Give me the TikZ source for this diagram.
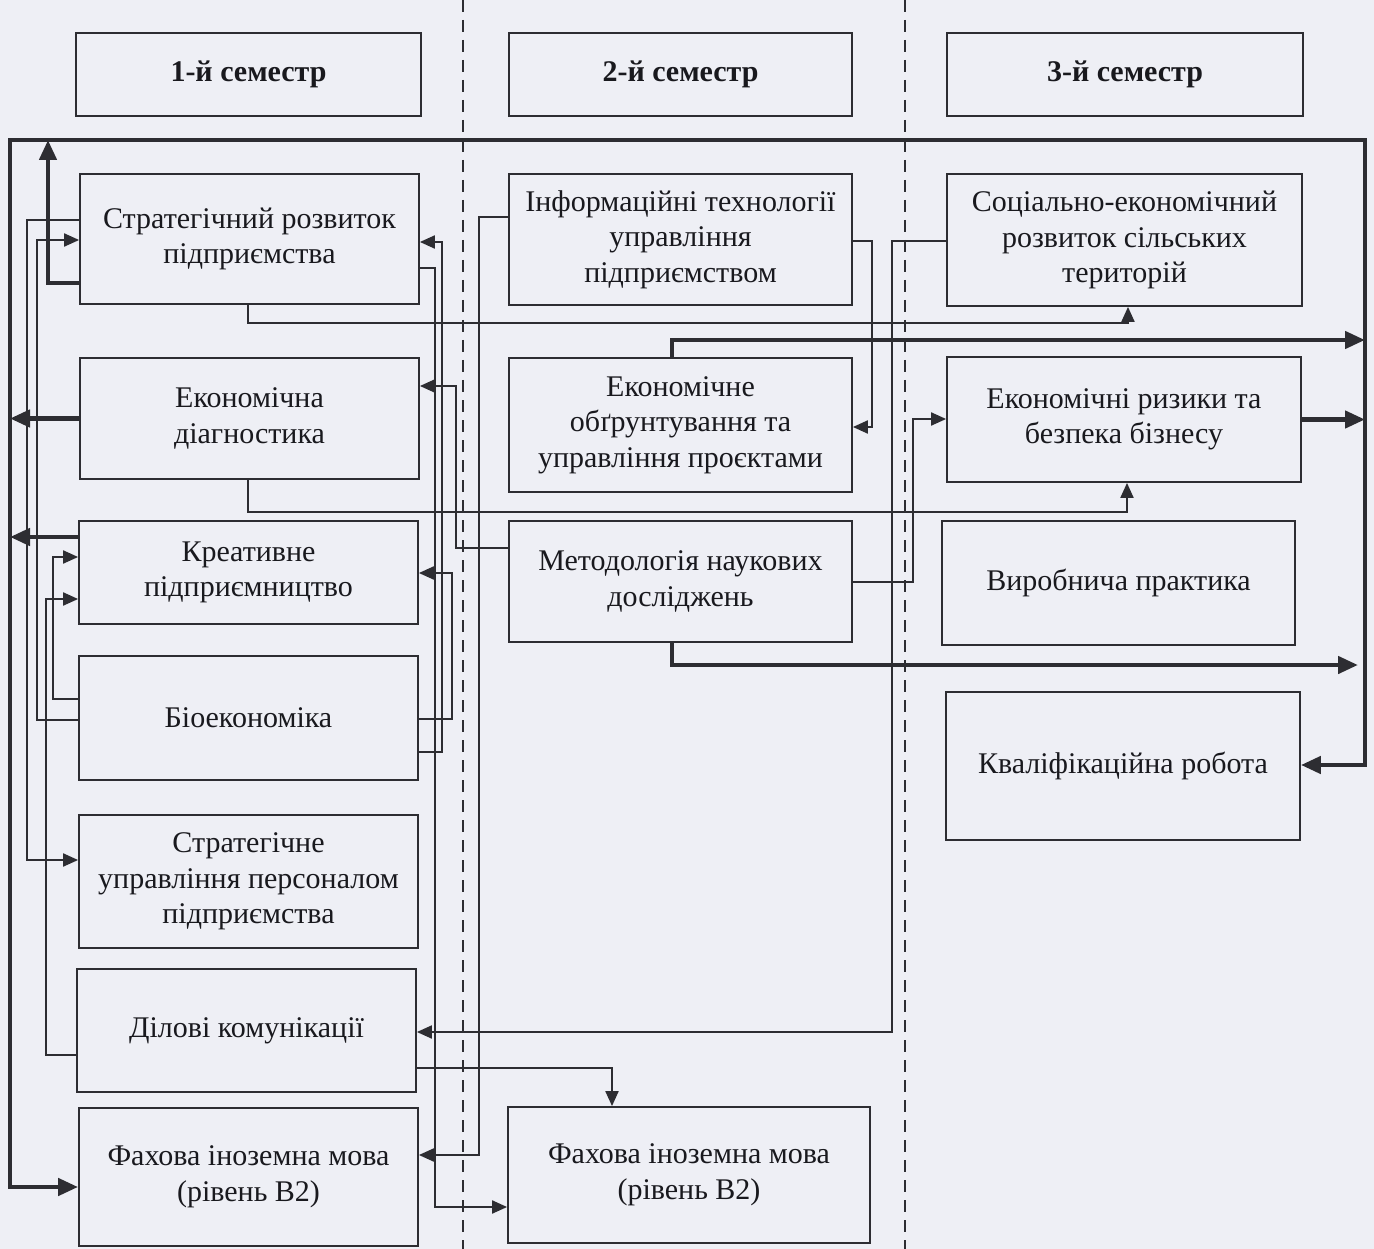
\documentclass[tikz,border=0pt]{standalone}
\usepackage{fontspec}
\setmainfont{Liberation Serif}
\usetikzlibrary{arrows.meta}
\definecolor{paper}{RGB}{238,239,245}
\definecolor{ink}{RGB}{45,45,50}
\definecolor{print}{RGB}{25,25,30}
\tikzset{
  box/.style={draw=ink, line width=1.8pt, align=center, text=print, inner sep=0pt,
    font=\fontsize{30}{35.5}\selectfont},
  head/.style={box, font=\fontsize{30}{35.5}\selectfont\bfseries},
  link/.style={draw=ink, line width=2pt, >={Triangle[length=15pt,width=13pt]}},
  bus/.style={draw=ink, line width=4.5pt, >={Triangle[length=20pt,width=17pt]}},
  divider/.style={draw=ink, line width=1.3pt, dash pattern=on 12pt off 8pt}
}
\begin{document}
\begin{tikzpicture}[x=1pt,y=-1pt]
      \fill[paper] (0,0) rectangle (1374,1249);
      \useasboundingbox (0,0) rectangle (1374,1249);
      \draw[divider] (463,0) -- (463,1249);
      \draw[divider] (905,0) -- (905,1249);
      \node[head, minimum width=345pt, minimum height=83pt] (H1) at (248.5,74.5) {1-й семестр};
      \node[head, minimum width=343pt, minimum height=83pt] (H2) at (680.5,74.5) {2-й семестр};
      \node[head, minimum width=356pt, minimum height=83pt] (H3) at (1125,74.5) {3-й семестр};
      \node[box, minimum width=339pt, minimum height=130pt] (B1) at (249.5,239) {Стратегічний розвиток\\підприємства};
      \node[box, minimum width=339pt, minimum height=121pt] (B2) at (249.5,418.5) {Економічна\\діагностика};
      \node[box, minimum width=339pt, minimum height=103pt] (B3) at (248.5,572.5) {Креативне\\підприємництво};
      \node[box, minimum width=339pt, minimum height=124pt] (B4) at (248.5,718) {Біоекономіка};
      \node[box, minimum width=339pt, minimum height=133pt] (B5) at (248.5,881.5) {Стратегічне\\управління персоналом\\підприємства};
      \node[box, minimum width=339pt, minimum height=123pt] (B6) at (246.5,1030.5) {Ділові комунікації};
      \node[box, minimum width=339pt, minimum height=138pt] (B7) at (248.5,1177) {Фахова іноземна мова\\(рівень В2)};
      \node[box, minimum width=343pt, minimum height=131pt] (C1) at (680.5,239.5) {Інформаційні технології\\управління\\підприємством};
      \node[box, minimum width=343pt, minimum height=134pt] (C2) at (680.5,425) {Економічне\\обґрунтування та\\управління проєктами};
      \node[box, minimum width=343pt, minimum height=121pt] (C3) at (680.5,581.5) {Методологія наукових\\досліджень};
      \node[box, minimum width=362pt, minimum height=136pt] (C4) at (689,1175) {Фахова іноземна мова\\(рівень В2)};
      \node[box, minimum width=355pt, minimum height=132pt] (D1) at (1124.5,240) {Соціально-економічний\\розвиток сільських\\територій};
      \node[box, minimum width=354pt, minimum height=125pt] (D2) at (1124,419.5) {Економічні ризики та\\безпека бізнесу};
      \node[box, minimum width=353pt, minimum height=124pt] (D3) at (1118.5,583) {Виробнича практика};
      \node[box, minimum width=354pt, minimum height=148pt] (D4) at (1123,766) {Кваліфікаційна робота};
      \coordinate (tl) at (10,140);
      \coordinate (tr) at (1365,140);
      \draw[bus, <->] (D4.east |- 0,765) -- (tr |- 0,765) -- (tr) -- (tl) |- (B7.west |- 0,1187);
      \draw[bus, ->] (B1.west |- 0,283) -- (48,283) -- (tl -| 48,0);
      \draw[bus, ->] (B2.west) -- (tl |- B2.west);
      \draw[bus, ->] (B3.west |- 0,537) -- (tl |- 0,537);
      \draw[bus, ->] (C2.north -| 672,0) |- (tr |- 0,340);
      \draw[bus, ->] (D2.east) -- (tr |- D2.east);
      \draw[bus, ->] (C3.south -| 672,0) |- (1358,665);
      \draw[link, ->] (B1.west |- 0,220) -- (27,220) |- (B5.west |- 0,860);
      \draw[link, ->] (B4.west |- 0,720) -- (37,720) |- (B1.west |- 0,240);
      \draw[link, ->] (B4.west |- 0,699) -- (53,699) |- (B3.west |- 0,557);
      \draw[link, ->] (B6.west |- 0,1055) -- (46,1055) |- (B3.west |- 0,599);
      \draw[link, ->] (B4.east |- 0,752) -- (442,752) |- (B1.east |- 0,242);
      \draw[link, ->] (B4.east |- 0,719) -- (452,719) |- (B3.east |- 0,573);
      \draw[link, ->] (B1.east |- 0,268) -- (435,268) |- (C4.west |- 0,1207);
      \draw[link, ->] (C3.west |- 0,548) -- (456,548) |- (B2.east |- 0,386);
      \draw[link, ->] (C1.west |- 0,217) -- (479,217) |- (B7.east |- 0,1155);
      \draw[link, ->] (D1.west |- 0,241) -- (892,241) |- (B6.east |- 0,1032);
      \draw[link, ->] (B6.east |- 0,1068) -| (C4.north -| 612,0);
      \draw[link, ->] (C1.east |- 0,241) -- (872,241) |- (C2.east |- 0,427);
      \draw[link, ->] (C3.east |- 0,582) -- (913,582) |- (D2.west |- 0,419);
      \draw[link, ->] (B1.south -| 248,0) |- (1128,323) -- (D1.south -| 1128,0);
      \draw[link, ->] (B2.south -| 248,0) |- (1127,512) -- (D2.south -| 1127,0);
    \end{tikzpicture}
\end{document}
